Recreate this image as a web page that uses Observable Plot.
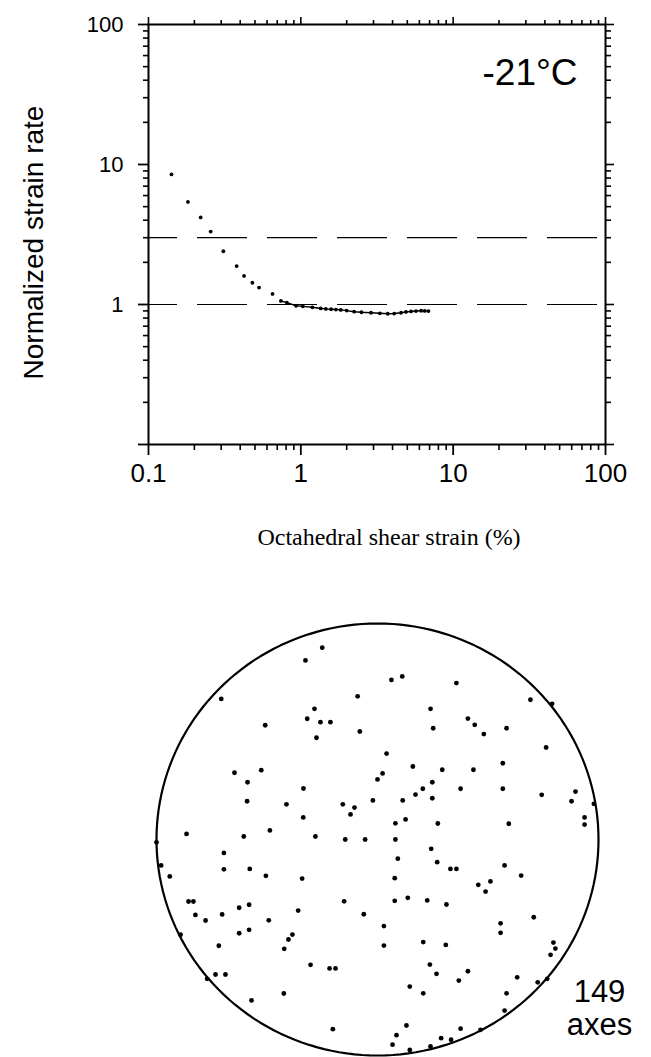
<!DOCTYPE html>
<html><head><meta charset="utf-8">
<script src="https://cdn.jsdelivr.net/npm/d3@7"></script>
<script src="https://cdn.jsdelivr.net/npm/@observablehq/plot@0.6"></script>
<style>html,body{margin:0;padding:0;background:#fff} svg{display:block}</style>
</head><body><div id="chart"></div>
<script>
// ---- Top chart: normalized strain rate vs octahedral shear strain ----
const strainPct = [0.1416, 0.1815, 0.22, 0.256, 0.31, 0.379, 0.424, 0.481, 0.532, 0.652,
  0.74, 0.81, 0.93, 1.03, 1.19, 1.35, 1.46, 1.58, 1.7, 1.83, 2.0, 2.24, 2.5, 2.89, 3.3, 3.72,
  4.1, 4.55, 4.9, 5.29, 5.7, 6.16, 6.5, 6.88];
const normRate = [8.5, 5.4, 4.19, 3.32, 2.40, 1.88, 1.60, 1.43, 1.32, 1.19,
  1.06, 1.03, 0.98, 0.97, 0.955, 0.937, 0.93, 0.925, 0.92, 0.915, 0.905, 0.888, 0.88, 0.873, 0.865, 0.859,
  0.862, 0.873, 0.885, 0.892, 0.898, 0.902, 0.90, 0.898];
const refLevels = [1, 3];
const xMajor = [0.1, 1, 10, 100];
const xMinor = [0.2,0.3,0.4,0.5,0.6,0.7,0.8,0.9, 2,3,4,5,6,7,8,9, 20,30,40,50,60,70,80,90];
const yMajor = [0.1, 1, 10, 100];
const yMinor = [0.2,0.3,0.4,0.5,0.6,0.7,0.8,0.9, 2,3,4,5,6,7,8,9, 20,30,40,50,60,70,80,90];
const xTitle = "Octahedral shear strain (%)";
const yTitle = "Normalized strain rate";
const tempLabel = "-21°C";

// ---- Bottom chart: c-axis pole plot (unit circle coordinates) ----
const poleX = [-0.250,-0.326,0.063,0.112,-0.707,-0.090,-0.285,-0.318,-0.258,-0.213,-0.276,-0.080,-0.508,0.041,-0.647,-0.526,-0.588,-0.590,-0.335,-0.412,-0.336,-0.157,-0.122,-0.104,-0.021,0.000,0.023,
  0.357,0.692,0.790,0.240,0.409,0.440,0.481,0.252,0.584,0.763,0.160,0.293,0.434,0.567,0.248,0.205,0.172,0.114,0.248,0.376,0.567,0.743,0.896,0.878,0.979,0.937,0.937,0.127,
  0.081,-0.864,-0.605,-0.487,-0.281,-0.146,-0.056,0.081,-1.000,-0.695,0.092,-0.979,-0.940,-0.695,-0.578,-0.505,-0.341,0.078,-0.855,-0.833,-0.151,0.078,-0.824,-0.778,-0.703,-0.626,-0.581,-0.359,-0.492,-0.062,0.029,-0.891,-0.626,-0.581,-0.403,-0.385,-0.422,-0.718,0.029,-0.303,-0.217,-0.190,-0.733,-0.688,-0.771,-0.424,-0.570,-0.202,0.086,0.068,
  0.273,0.594,0.243,0.270,0.330,0.357,0.575,0.650,0.456,0.511,0.489,0.137,0.225,0.312,0.707,0.557,0.557,0.207,0.309,0.796,0.805,0.783,0.237,0.267,0.409,0.368,0.632,0.725,0.768,0.146,0.207,0.584,0.575,0.466,0.376,0.131,0.288,0.333,0.240,0.146];
const poleY = [0.888,0.829,0.739,0.755,0.651,0.663,0.605,0.559,0.543,0.543,0.471,0.500,0.529,0.398,0.309,0.321,0.265,0.177,0.236,0.163,0.102,0.163,0.116,0.148,0.181,0.278,0.306,
  0.724,0.647,0.628,0.605,0.560,0.531,0.488,0.515,0.515,0.426,0.338,0.323,0.323,0.353,0.265,0.235,0.208,0.181,0.191,0.235,0.235,0.207,0.222,0.177,0.165,0.102,0.069,0.093,
  0.075,0.026,0.014,0.042,0.014,0.000,0.000,0.000,-0.013,-0.062,-0.089,-0.120,-0.171,-0.138,-0.136,-0.168,-0.181,-0.179,-0.287,-0.287,-0.286,-0.284,-0.349,-0.375,-0.347,-0.316,-0.302,-0.329,-0.374,-0.346,-0.401,-0.441,-0.434,-0.418,-0.463,-0.440,-0.506,-0.492,-0.491,-0.580,-0.597,-0.597,-0.625,-0.625,-0.645,-0.713,-0.745,-0.878,-0.906,-0.950,
  0.074,0.073,-0.043,-0.105,-0.136,-0.136,-0.120,-0.167,-0.210,-0.194,-0.241,-0.270,-0.282,-0.301,-0.360,-0.388,-0.432,-0.475,-0.488,-0.477,-0.505,-0.534,-0.579,-0.622,-0.610,-0.653,-0.638,-0.661,-0.645,-0.681,-0.712,-0.712,-0.792,-0.881,-0.876,-0.861,-0.920,-0.927,-0.958,-0.974];
const countLabel = "149\naxes";

const curve = strainPct.map((x, i) => ({x, y: normRate[i]}));
const denseTail = curve.filter(d => d.x >= 0.74);
const poles = poleX.map((x, i) => ({x, y: poleY[i]}));
const netOutline = d3.range(0, 361, 2).map(a => ({x: Math.cos(a * Math.PI / 180), y: Math.sin(a * Math.PI / 180)}));

const sans = "'Liberation Sans', Arial, Helvetica, sans-serif";
const blank = () => "";

const topChart = Plot.plot({
  width: 651, height: 570,
  marginLeft: 148, marginRight: 46, marginTop: 24, marginBottom: 126,
  x: {type: "log", domain: [0.1, 100]},
  y: {type: "log", domain: [0.1, 100]},
  style: {fontFamily: sans, color: "black", background: "white", overflow: "visible"},
  marks: [
    Plot.ruleY(refLevels, {stroke: "black", strokeWidth: 1.2, strokeDasharray: "50,20", strokeDashoffset: 21}),
    Plot.frame({stroke: "black", strokeWidth: 2}),
    Plot.axisX(xMajor, {anchor: "bottom", tickSize: 11, tickPadding: 8, fontSize: 26, strokeWidth: 1.8, tickFormat: d => String(d), label: null}),
    Plot.axisX(xMinor, {anchor: "bottom", tickSize: 6, strokeWidth: 1.6, tickFormat: blank, label: null}),
    Plot.axisX(xMajor, {anchor: "top", tickSize: 8, strokeWidth: 1.6, tickFormat: blank, label: null}),
    Plot.axisX(xMinor, {anchor: "top", tickSize: 5, strokeWidth: 1.6, tickFormat: blank, label: null}),
    Plot.axisY(yMajor, {anchor: "left", tickSize: 10, tickPadding: 15, fontSize: 22, strokeWidth: 1.8, tickFormat: d => d >= 1 ? String(d) : "", label: null}),
    Plot.axisY(yMinor, {anchor: "left", tickSize: 5, strokeWidth: 1.6, tickFormat: blank, label: null}),
    Plot.axisY(yMajor, {anchor: "right", tickSize: 8, strokeWidth: 1.6, tickFormat: blank, label: null}),
    Plot.axisY(yMinor, {anchor: "right", tickSize: 5, strokeWidth: 1.6, tickFormat: blank, label: null}),
    Plot.line(denseTail, {x: "x", y: "y", stroke: "black", strokeWidth: 1.4}),
    Plot.dot(curve, {x: "x", y: "y", r: 1.9, fill: "black", stroke: null}),
    Plot.text([tempLabel], {text: d => d, frameAnchor: "top-right", textAnchor: "end", lineAnchor: "middle", dx: -28, dy: 49, fontSize: 37, fill: "black"}),
    Plot.text([xTitle], {text: d => d, frameAnchor: "bottom", textAnchor: "middle", lineAnchor: "middle", dx: 12, dy: 93, fontSize: 24, fontFamily: "'Liberation Serif', 'Times New Roman', serif", fill: "black"}),
    Plot.text([yTitle], {text: d => d, frameAnchor: "left", rotate: -90, textAnchor: "middle", lineAnchor: "middle", dx: -114, dy: 8, fontSize: 28, fill: "black"})
  ]
});

const netChart = Plot.plot({
  width: 651, height: 487,
  marginLeft: 156, marginRight: 53, marginTop: 53, marginBottom: 2,
  x: {domain: [-1, 1], axis: null},
  y: {domain: [-1, 1], axis: null},
  style: {fontFamily: sans, color: "black", background: "white", overflow: "visible"},
  marks: [
    Plot.line(netOutline, {x: "x", y: "y", stroke: "black", strokeWidth: 2.2}),
    Plot.dot(poles, {x: "x", y: "y", r: 2.4, fill: "black", stroke: null}),
    Plot.text([countLabel], {text: d => d, frameAnchor: "bottom-right", textAnchor: "middle", lineAnchor: "middle", lineHeight: 1.065, fontSize: 31, dx: 1, dy: -48, fill: "black"})
  ]
});

const root = document.getElementById("chart");
root.appendChild(topChart);
root.appendChild(netChart);
</script>
</body></html>
